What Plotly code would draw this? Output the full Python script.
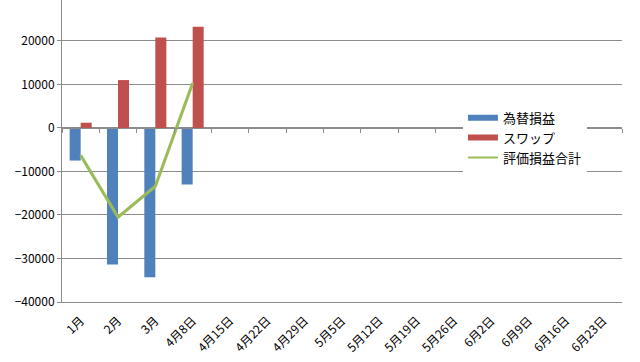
import plotly.graph_objects as go

categories = ["1月", "2月", "3月", "4月8日", "4月15日", "4月22日", "4月29日", "5月5日",
              "5月12日", "5月19日", "5月26日", "6月2日", "6月9日", "6月16日", "6月23日"]
fx_pl = [-7500, -31400, -34300, -13000] + [None] * 11          # 為替損益
swap = [1200, 11000, 20800, 23250] + [None] * 11               # スワップ
total = [-6300, -20500, -13400, 10300] + [None] * 11           # 評価損益合計
y_ticks = [-40000, -30000, -20000, -10000, 0, 10000, 20000, 30000]

C_BLUE = "#4F81BD"
C_RED = "#C0504D"
C_GREEN = "#9BBB59"
GRID = "#8C8C8C"
FONT = "Noto Sans CJK JP"

y_min, y_max = -40000, 29400

fig = go.Figure()
fig.add_trace(go.Bar(x=categories, y=fx_pl, name="為替損益", marker_color=C_BLUE,
                     marker_line_width=0, showlegend=False))
fig.add_trace(go.Bar(x=categories, y=swap, name="スワップ", marker_color=C_RED,
                     marker_line_width=0, showlegend=False))
fig.add_trace(go.Scatter(x=categories, y=total, name="評価損益合計", mode="lines",
                         line=dict(color=C_GREEN, width=3), showlegend=False))
# legend proxies (Excel-style wide swatches)
for nm, col, w in [("為替損益", C_BLUE, 6), ("スワップ", C_RED, 6), ("評価損益合計", C_GREEN, 2)]:
    fig.add_trace(go.Scatter(x=[None], y=[None], name=nm, mode="lines",
                             line=dict(color=col, width=w), hoverinfo="skip"))
# axis at zero line carrying boundary tick marks
fig.add_trace(go.Scatter(x=categories, y=[None] * len(categories), xaxis="x2",
                         showlegend=False, hoverinfo="skip", mode="lines"))

zero_pos = (0 - y_min) / (y_max - y_min)

fig.update_layout(
    width=640, height=362,
    margin=dict(l=62, r=18, t=0, b=60, autoexpand=False),
    paper_bgcolor="white", plot_bgcolor="white",
    font=dict(family=FONT, size=12, color="#000000"),
    barmode="group", bargap=0.41, bargroupgap=0,
    showlegend=True,
    legend=dict(x=0.716, y=0.66, xanchor="left", yanchor="top",
                bgcolor="white", borderwidth=0, font=dict(size=13, family=FONT),
                tracegroupgap=0, itemwidth=30),
    xaxis=dict(type="category", categoryorder="array", categoryarray=categories,
               range=[-0.5, len(categories) - 0.5], tickangle=-45, automargin=False,
               showgrid=False, showline=True, linecolor=GRID, linewidth=1,
               ticks="", ticklabelstandoff=6, zeroline=False,
               tickfont=dict(size=12, family=FONT)),
    xaxis2=dict(type="category", categoryorder="array", categoryarray=categories,
                range=[-0.5, len(categories) - 0.5], overlaying="x", anchor="free",
                position=zero_pos, side="bottom", showticklabels=False, automargin=False,
                tickson="boundaries", ticks="outside", ticklen=4, tickcolor=GRID,
                showgrid=False, showline=True, linecolor=GRID, linewidth=1, zeroline=False),
    yaxis=dict(range=[y_min, y_max], tickvals=y_ticks, showgrid=True, gridcolor=GRID,
               gridwidth=1, showline=True, linecolor=GRID, linewidth=1, automargin=False,
               ticks="outside", ticklen=4, tickcolor=GRID, zeroline=False,
               tickformat="d", tickfont=dict(size=12, family=FONT)),
)

fig.write_html("out.html", config={"displayModeBar": False},
               post_script="document.body.style.margin='0';")
